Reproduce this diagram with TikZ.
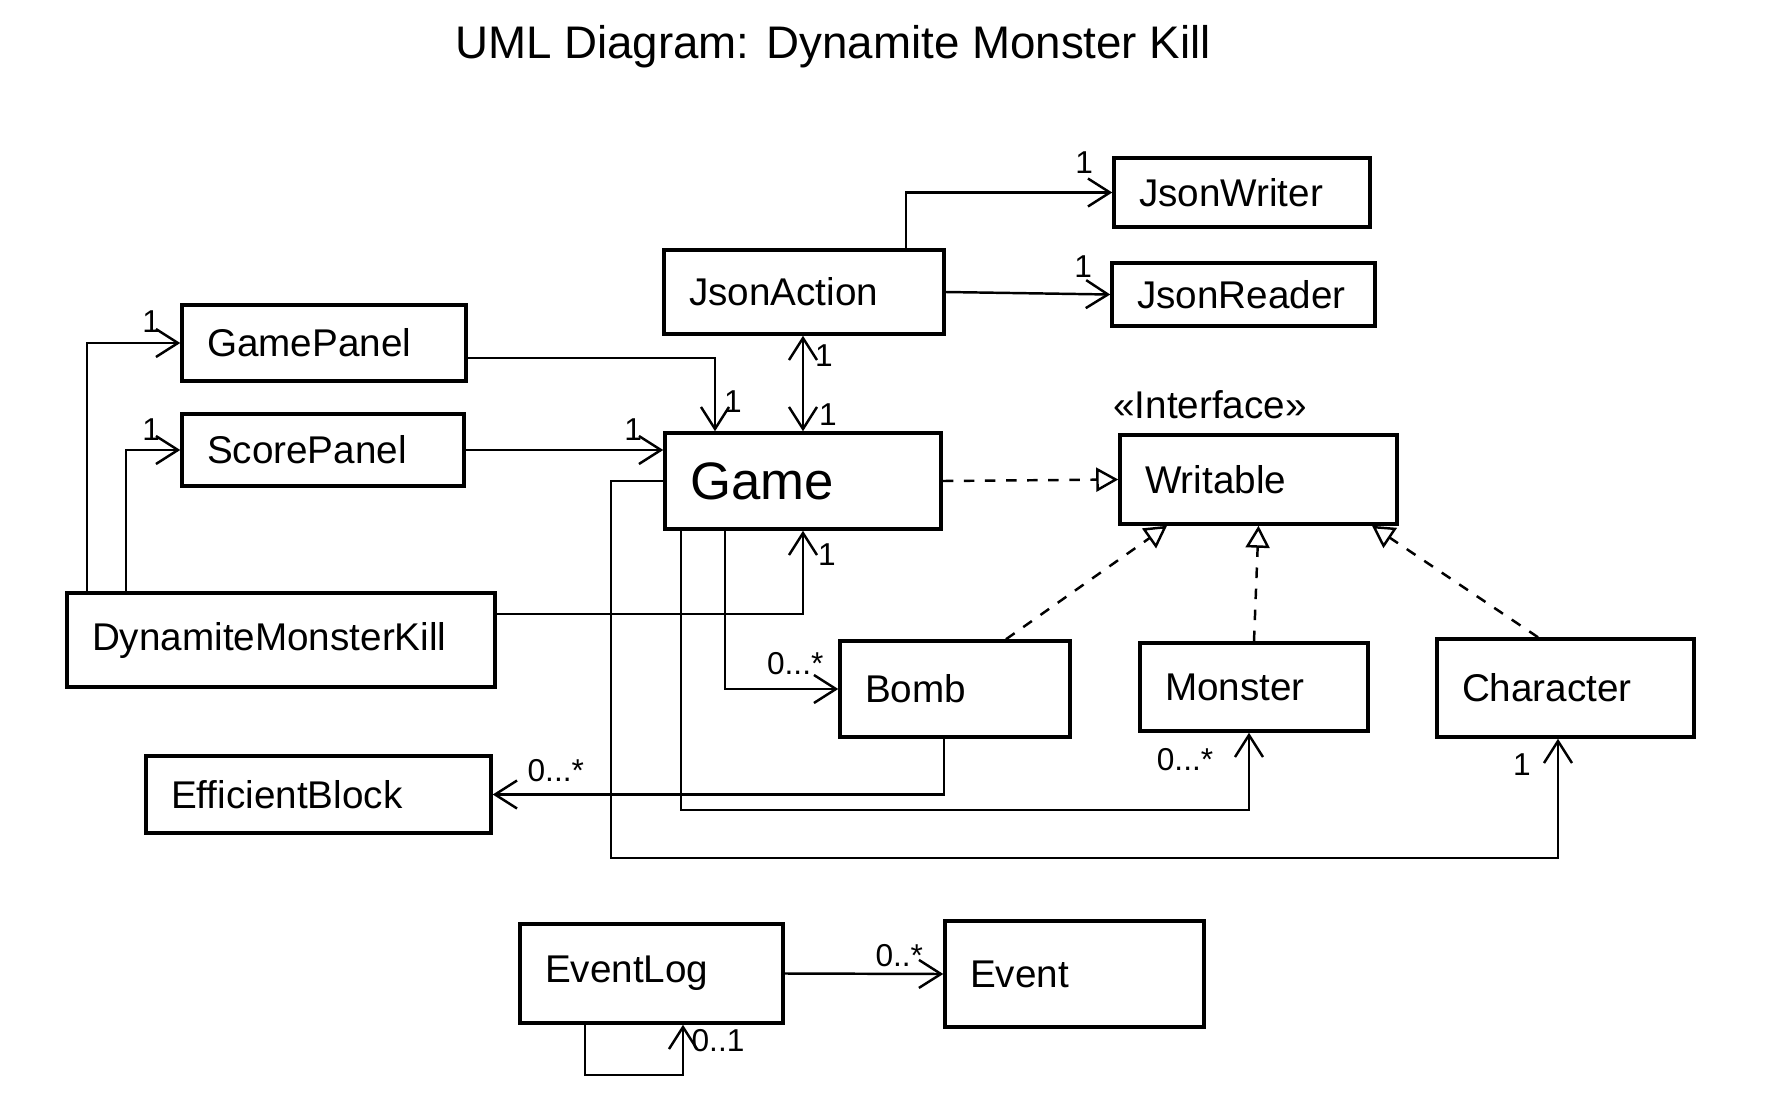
\documentclass[tikz,border=0pt]{standalone}
\usepackage{fontspec}
\setmainfont{Liberation Sans}
\usetikzlibrary{arrows.meta}

\begin{document}
\begin{tikzpicture}[
    font=\fontsize{11}{13}\selectfont,
    cls/.style={draw, line width=1pt, inner xsep=0.25cm, inner ysep=0pt, align=left},
    mult/.style={font=\fontsize{9}{10}\selectfont, inner sep=1pt},
    arr/.style={-{Straight Barb[length=2.2mm, width=2.8mm]}, line width=0.7pt},
    biarr/.style={{Straight Barb[length=2.2mm, width=2.8mm]}-{Straight Barb[length=2.2mm, width=2.8mm]}, line width=0.7pt},
    realarr/.style={-{Triangle[open, length=2.2mm, width=2.4mm]}, line width=0.7pt, dashed},
]
\useasboundingbox (0,0) rectangle (17.77,-11.08);

% --- Titre ---
\node[font=\fontsize{13}{15}\selectfont] (title) at (8.33,-0.47) {UML Diagram: Dynamite Monster Kill};

% --- Classes Json (haut) ---
\node[cls, text width=2.06cm, minimum height=0.69cm] (jsonwriter) at (12.42,-1.925) {JsonWriter};
\node[cls, text width=2.13cm, minimum height=0.63cm] (jsonreader) at (12.435,-2.945) {JsonReader};
\node[cls, text width=2.30cm, minimum height=0.84cm] (jsonaction) at (8.04,-2.92) {JsonAction};

% --- Panels et jeu ---
\node[cls, text width=2.34cm, minimum height=0.76cm] (gamepanel) at (3.24,-3.43) {GamePanel};
\node[cls, text width=2.32cm, minimum height=0.72cm] (scorepanel) at (3.23,-4.50) {ScorePanel};
\node[cls, text width=2.26cm, minimum height=0.96cm, font=\fontsize{15}{17}\selectfont] (game) at (8.03,-4.81) {Game};
\node[cls, text width=3.78cm, minimum height=0.94cm] (dmk) at (2.81,-6.40) {DynamiteMonsterKill};

% --- Interface Writable et ses classes ---
\node[cls, text width=2.27cm, minimum height=0.89cm] (writable) at (12.585,-4.795) {Writable};
\node (iface) at (12.10,-4.05) {«Interface»};
\node[cls, text width=1.80cm, minimum height=0.96cm] (bomb) at (9.55,-6.89) {Bomb};
\node[cls, text width=1.78cm, minimum height=0.88cm] (monster) at (12.54,-6.87) {Monster};
\node[cls, text width=2.07cm, minimum height=0.98cm] (character) at (15.655,-6.88) {Character};
\node[cls, text width=2.95cm, minimum height=0.77cm] (effblock) at (3.185,-7.945) {EfficientBlock};

% --- Journal d'evenements ---
\node[cls, text width=2.13cm, minimum height=0.99cm] (eventlog) at (6.515,-9.735) {EventLog};
\node[cls, text width=2.09cm, minimum height=1.06cm] (event) at (10.745,-9.74) {Event};

% --- Associations ---
\draw[arr] ([xshift=1.02cm]jsonaction.north) |- node[mult, at end, shift={(-0.28,0.30)}] {1} (jsonwriter.west);
\draw[arr] (jsonaction.east) -- node[mult, at end, shift={(-0.27,0.28)}] {1} (jsonreader.west);
\draw[biarr] (game.north |- jsonaction.south) -- node[mult, at start, shift={(0.21,-0.20)}] {1}
    node[mult, at end, shift={(0.25,0.17)}] {1} (game.north);
\draw[arr] ([yshift=-0.15cm]gamepanel.east) -| node[mult, at end, shift={(0.18,0.30)}] {1} ([xshift=-0.88cm]game.north);
\draw[arr] (scorepanel.east) -- node[mult, at end, shift={(-0.30,0.20)}] {1} (scorepanel.east -| game.west);

\draw[arr] ([xshift=-1.94cm]dmk.north) |- node[mult, at end, shift={(-0.29,0.21)}] {1} (gamepanel.west);
\draw[arr] ([xshift=-1.55cm]dmk.north) |- node[mult, at end, shift={(-0.29,0.20)}] {1} (scorepanel.west);
\draw[arr] ([yshift=0.26cm]dmk.east) -| node[mult, at end, shift={(0.24,-0.24)}] {1} (game.south);

\draw[arr] ([xshift=-0.78cm]game.south) |- node[mult, at end, shift={(-0.43,0.25)}] {0...*} (bomb.west);
\draw[arr] ([xshift=-1.22cm]game.south) -- ++(0,-2.79) -| node[mult, at end, shift={(-0.64,-0.27)}] {0...*} ([xshift=-0.05cm]monster.south);
\draw[arr] (game.west) -- ++(-0.52,0) -- ++(0,-3.77) -| node[mult, at end, shift={(-0.36,-0.26)}] {1} ([xshift=-0.075cm]character.south);
\draw[arr] ([xshift=-0.11cm]bomb.south) |- node[mult, at end, shift={(0.63,0.24)}] {0...*} (effblock.east);

% --- Realisations de Writable ---
\draw[realarr] (game.east) -- (writable.west);
\draw[realarr] ([xshift=0.51cm]bomb.north) -- ([xshift=-0.915cm]writable.south);
\draw[realarr] (monster.north) -- (writable.south);
\draw[realarr] ([xshift=-0.275cm]character.north) -- ([xshift=1.135cm]writable.south);

% --- EventLog ---
\draw[arr] (eventlog.east) -- node[mult, at end, shift={(-0.44,0.18)}] {0..*} (event.west);
\draw[arr] ([xshift=-0.665cm]eventlog.south) -- ++(0,-0.5) -| node[mult, at end, shift={(0.35,-0.16)}] {0..1} ([xshift=0.315cm]eventlog.south);

\end{tikzpicture}
\end{document}
